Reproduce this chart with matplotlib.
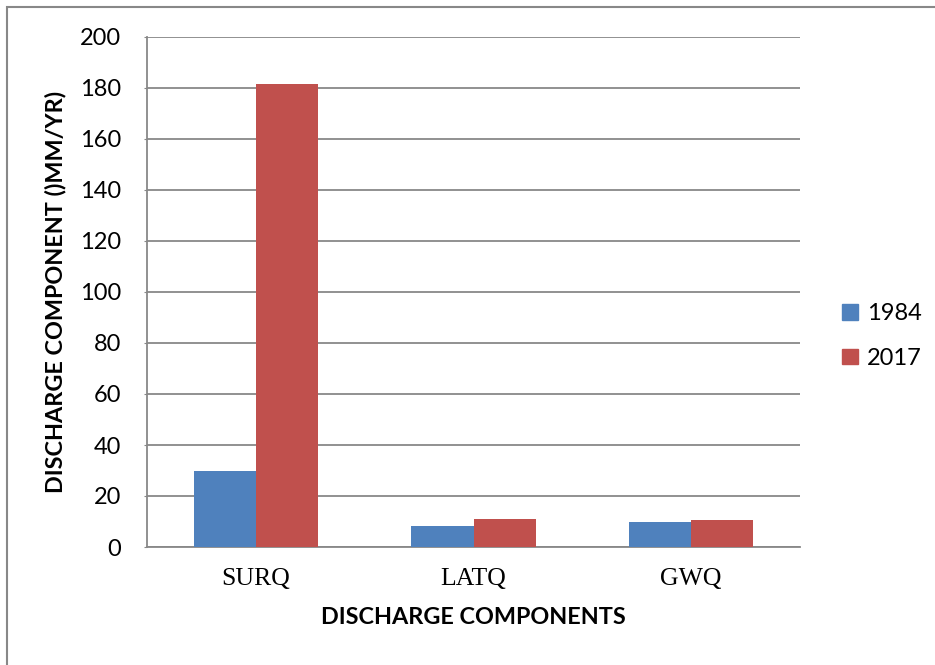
import numpy as np
import matplotlib.pyplot as plt
from matplotlib.patches import Rectangle, Patch

# discharge components (mm/yr)
components = ["SURQ", "LATQ", "GWQ"]
years = ["1984", "2017"]
q_1984 = [30.0, 8.3, 9.7]
q_2017 = [181.5, 11.1, 10.5]

colors = ["#4F81BD", "#C0504D"]
grid_col = "#888888"

plt.rcParams["font.family"] = ["Lato", "DejaVu Sans"]

fig = plt.figure(figsize=(9.35, 6.65), dpi=100)
ax = fig.add_axes([147 / 935, 1 - 547 / 665, (800 - 147) / 935, (547 - 37) / 665])

x = np.arange(len(components))
w = 1 / 3.5
ax.bar(x - w / 2, q_1984, w, color=colors[0], zorder=3)
ax.bar(x + w / 2, q_2017, w, color=colors[1], zorder=3)

ax.set_xlim(-0.5, len(components) - 0.5)
ax.set_ylim(0, 200)
ax.set_yticks(np.arange(0, 201, 20))
ax.yaxis.grid(True, color=grid_col, linewidth=1.3, zorder=0)
ax.set_axisbelow(True)

for side in ["top", "right"]:
    ax.spines[side].set_visible(False)
for side in ["left", "bottom"]:
    ax.spines[side].set_color(grid_col)
    ax.spines[side].set_linewidth(1.3)

ax.tick_params(axis="y", length=2, color=grid_col, labelsize=17, pad=16.5)
ax.tick_params(axis="x", length=0, pad=15)
ax.set_xticks(x)
ax.set_xticklabels(components, family="Liberation Serif", fontsize=18.5)

ax.set_xlabel("DISCHARGE COMPONENTS", fontsize=16.8, fontweight="bold", labelpad=12)
ax.set_ylabel("DISCHARGE COMPONENT ()MM/YR)", fontsize=16.8, fontweight="bold",
              labelpad=10)

handles = [Patch(color=c) for c in colors]
fig.legend(handles, years, loc="center left", bbox_to_anchor=(821 / 935, 1 - 336 / 665),
           frameon=False, fontsize=17, handlelength=0.65, handleheight=0.65,
           handletextpad=0.4, labelspacing=1.0)

# outer chart border
fig.patches.append(Rectangle((7 / 935, -0.1), 1.2, 1.1 - 7 / 665,
                             transform=fig.transFigure, fill=False,
                             edgecolor=grid_col, linewidth=1.5))

fig.savefig("out.png", dpi=100)
